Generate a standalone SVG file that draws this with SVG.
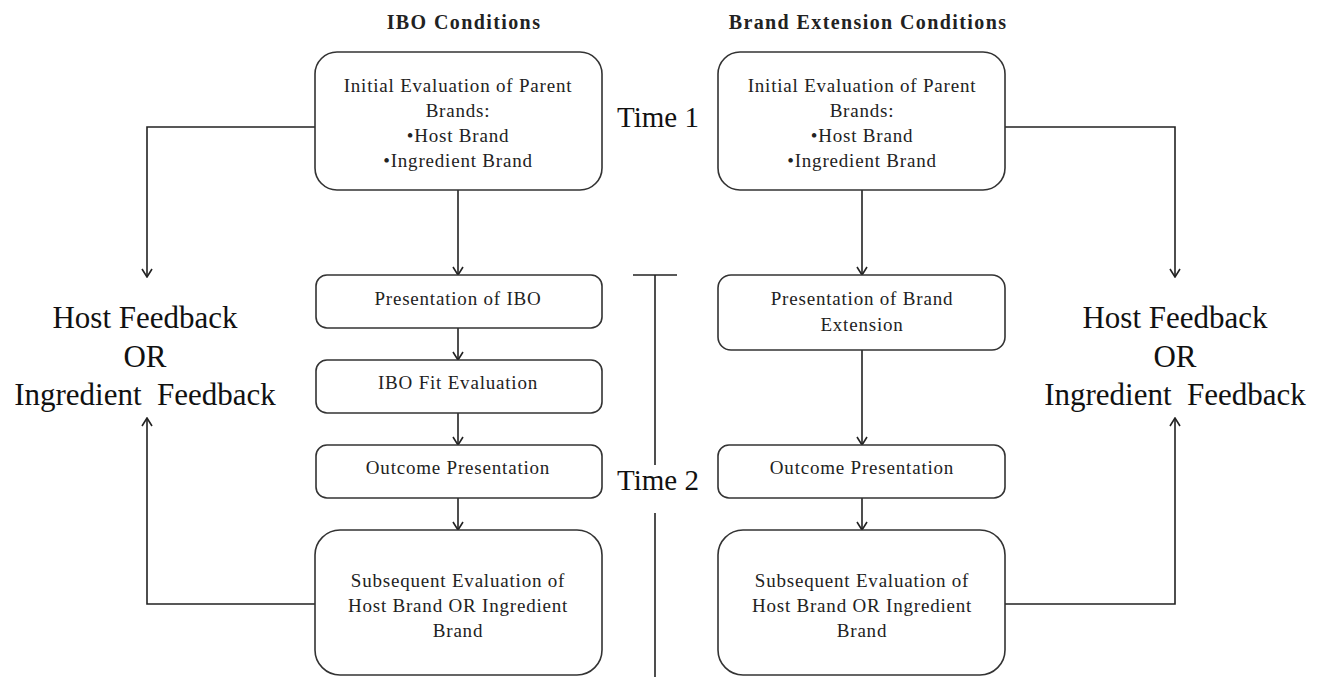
<svg xmlns="http://www.w3.org/2000/svg" width="1327" height="677" viewBox="0 0 1327 677">
<defs>
<marker id="arr" viewBox="0 0 12 12" refX="11" refY="6" markerWidth="12" markerHeight="12" markerUnits="userSpaceOnUse" orient="auto">
<path d="M3,1 L11,6 L3,11" fill="none" stroke="#222" stroke-width="1.6"/>
</marker>
</defs>
<style>
.box{fill:#fff;stroke:#333;stroke-width:1.6}
.t{font-family:"Liberation Serif","Times New Roman",serif;font-size:19px;letter-spacing:0.8px;fill:#222;text-anchor:middle}
.title{font-family:"Liberation Serif","Times New Roman",serif;font-size:20px;font-weight:bold;letter-spacing:1.4px;fill:#222;text-anchor:middle}
.big{font-family:"Liberation Serif","Times New Roman",serif;font-size:31px;fill:#111;text-anchor:middle}
.time{font-family:"Liberation Serif","Times New Roman",serif;font-size:29px;fill:#111;text-anchor:middle}
.ln{fill:none;stroke:#222;stroke-width:1.6}
</style>
<rect width="1327" height="677" fill="#fff"/>

<g id="titles">
<text class="title" x="464" y="29">IBO Conditions</text>
<text class="title" x="868" y="29">Brand Extension Conditions</text>
</g>

<g id="connectors">
<line class="ln" x1="458" y1="190" x2="458" y2="275" marker-end="url(#arr)"/>
<line class="ln" x1="458" y1="328" x2="458" y2="360" marker-end="url(#arr)"/>
<line class="ln" x1="458" y1="413" x2="458" y2="445" marker-end="url(#arr)"/>
<line class="ln" x1="458" y1="498" x2="458" y2="530" marker-end="url(#arr)"/>
<line class="ln" x1="862" y1="190" x2="862" y2="275" marker-end="url(#arr)"/>
<line class="ln" x1="862" y1="350" x2="862" y2="445" marker-end="url(#arr)"/>
<line class="ln" x1="862" y1="498" x2="862" y2="530" marker-end="url(#arr)"/>
<polyline class="ln" points="315,127 147,127 147,277" marker-end="url(#arr)"/>
<polyline class="ln" points="315,604 147,604 147,418" marker-end="url(#arr)"/>
<polyline class="ln" points="1005,127 1175,127 1175,277" marker-end="url(#arr)"/>
<polyline class="ln" points="1005,604 1175,604 1175,418" marker-end="url(#arr)"/>
</g>

<g id="time-bar">
<line class="ln" x1="633" y1="275" x2="677" y2="275"/>
<line class="ln" x1="655" y1="275" x2="655" y2="465"/>
<line class="ln" x1="655" y1="513" x2="655" y2="677"/>
<text class="time" x="658" y="127">Time 1</text>
<text class="time" x="658" y="490">Time 2</text>
</g>

<g id="ibo-initial">
<rect class="box" x="315" y="52" width="287" height="138" rx="22"/>
<text class="t" x="458" y="92">Initial Evaluation of Parent</text>
<text class="t" x="458" y="117">Brands:</text>
<text class="t" x="458" y="142">•Host Brand</text>
<text class="t" x="458" y="167">•Ingredient Brand</text>
</g>
<g id="ibo-presentation">
<rect class="box" x="316" y="275" width="286" height="53" rx="11"/>
<text class="t" x="458" y="305">Presentation of IBO</text>
</g>
<g id="ibo-fit">
<rect class="box" x="316" y="360" width="286" height="53" rx="11"/>
<text class="t" x="458" y="389">IBO Fit Evaluation</text>
</g>
<g id="ibo-outcome">
<rect class="box" x="316" y="445" width="286" height="53" rx="11"/>
<text class="t" x="458" y="474">Outcome Presentation</text>
</g>
<g id="ibo-subsequent">
<rect class="box" x="315" y="530" width="287" height="145" rx="25"/>
<text class="t" x="458" y="587">Subsequent Evaluation of</text>
<text class="t" x="458" y="612">Host Brand OR Ingredient</text>
<text class="t" x="458" y="637">Brand</text>
</g>

<g id="be-initial">
<rect class="box" x="718" y="52" width="287" height="138" rx="22"/>
<text class="t" x="862" y="92">Initial Evaluation of Parent</text>
<text class="t" x="862" y="117">Brands:</text>
<text class="t" x="862" y="142">•Host Brand</text>
<text class="t" x="862" y="167">•Ingredient Brand</text>
</g>
<g id="be-presentation">
<rect class="box" x="718" y="275" width="287" height="75" rx="13"/>
<text class="t" x="862" y="305">Presentation of Brand</text>
<text class="t" x="862" y="331">Extension</text>
</g>
<g id="be-outcome">
<rect class="box" x="718" y="445" width="287" height="53" rx="11"/>
<text class="t" x="862" y="474">Outcome Presentation</text>
</g>
<g id="be-subsequent">
<rect class="box" x="718" y="530" width="287" height="145" rx="25"/>
<text class="t" x="862" y="587">Subsequent Evaluation of</text>
<text class="t" x="862" y="612">Host Brand OR Ingredient</text>
<text class="t" x="862" y="637">Brand</text>
</g>

<g id="feedback-left">
<text class="big" x="145" y="328">Host Feedback</text>
<text class="big" x="145" y="367">OR</text>
<text class="big" x="145" y="405" xml:space="preserve">Ingredient  Feedback</text>
</g>
<g id="feedback-right">
<text class="big" x="1175" y="328">Host Feedback</text>
<text class="big" x="1175" y="367">OR</text>
<text class="big" x="1175" y="405" xml:space="preserve">Ingredient  Feedback</text>
</g>
</svg>
